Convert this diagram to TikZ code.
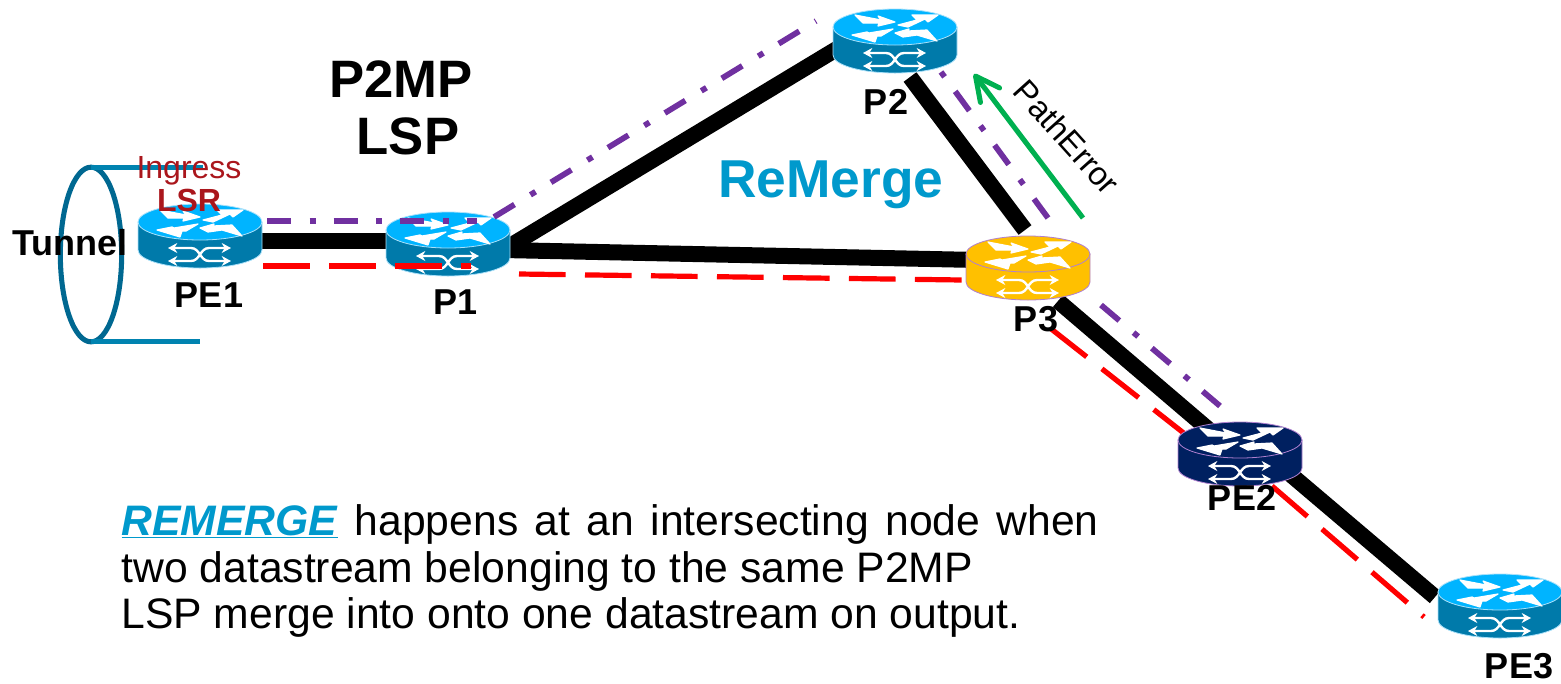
\documentclass[tikz,border=0pt]{standalone}
\usepackage{fontspec}
\setmainfont{Liberation Sans}
\usetikzlibrary{arrows.meta,calc,shapes.geometric}

\definecolor{lspblue}{RGB}{0,153,204}
\definecolor{lsrred}{RGB}{170,22,28}
\definecolor{lsppurple}{RGB}{112,48,160}
\definecolor{errgreen}{RGB}{0,176,80}
\definecolor{tubedark}{RGB}{0,104,145}
\definecolor{tubelight}{RGB}{0,131,176}
\definecolor{skytop}{RGB}{0,180,255}
\definecolor{skyside}{RGB}{0,122,170}
\definecolor{skyline}{RGB}{170,225,250}
\definecolor{goldtop}{RGB}{255,192,0}
\definecolor{navytop}{RGB}{0,32,96}
\definecolor{edgelilac}{RGB}{176,128,208}

\tikzset{every picture/.style={line width=0.75pt}}
\tikzset{
  routerbox/.style={minimum width=93pt,minimum height=48pt,inner sep=0pt,outer sep=0pt},
  link/.style={line width=12pt,black},
  purpledash/.style={line width=4.3pt,lsppurple,dash pattern=on 18pt off 14pt on 4.5pt off 13.5pt},
  reddash/.style={line width=3.9pt,red,dash pattern=on 35pt off 14.5pt},
  tag/.style={font=\fontsize{27}{30}\selectfont\bfseries,inner sep=0pt},
  routerface/.style={fill=white,draw=white,line width=0.9pt,line join=round},
  routerarrow/.style={white,line width=1.8pt,{Stealth[length=7pt,width=7.5pt]}-{Stealth[length=7pt,width=7.5pt]}},
  pics/router/.style n args={3}{code={
    \begin{scope}[yscale=-1,shift={(0,-14)}]
      \fill[#2,draw=#3,line width=0.6pt] (-62,0) -- (-62,28) arc[start angle=180,end angle=0,x radius=62,y radius=18] -- (62,0) -- cycle;
      \fill[#1,draw=#3,line width=0.6pt] (0,0) ellipse [x radius=62,y radius=18];
      %top arrows
      \path[routerface] (-40,-12) -- (-14,-7) -- (-17,-11) -- (0,-5) -- (-17,-1) -- (-16,-4) -- (-32,-4) -- cycle;
      \path[routerface] (3,-2) -- (22,-7) -- (17,-12) -- (43,-12) -- (33,-5) -- (30,-8) -- (13,0) -- cycle;
      \path[routerface] (-43,8) -- (-28,5) -- (-26,6) -- (-2,2) -- (-14,9) -- (-18,9) -- (-20,15) -- cycle;
      \path[routerface] (0,6) -- (14,2) -- (13,4) -- (32,3) -- (42,14) -- (22,8) -- (8,10) -- cycle;
      %bottom arrows
      \draw[routerarrow] (-32,26) -- (-9,26) .. controls (0,26) and (0,39) .. (9,39) -- (31,39);
      \draw[routerarrow] (-32,39) -- (-9,39) .. controls (0,39) and (0,26) .. (9,26) -- (31,26);
    \end{scope}
  }}
}

\begin{document}
\begin{tikzpicture}[x=0.75pt,y=0.75pt,yscale=-1,xscale=1]
\useasboundingbox (0,0) rectangle (1561,683);

%Routers, places only
\node[routerbox] (PE1) at (200,236) {};
\node[routerbox] (P1) at (448,244) {};
\node[routerbox] (P2) at (895,41) {};
\node[routerbox] (P3) at (1028,268) {};
\node[routerbox] (PE2) at (1240,454) {};
\node[routerbox] (PE3) at (1500,606) {};

%Tunnel
\node[ellipse,draw=tubedark,line width=3.8pt,minimum width=46pt,minimum height=131pt,inner sep=0pt,outer sep=0pt] (tube) at (91,254.5) {};
\coordinate (tubetop) at ($(tube.north)+(112,0)$);
\coordinate (tubebot) at ($(tube.south)+(109,0)$);
\draw[tubelight,line width=3.8pt] (tube.north) -- (tubetop);
\draw[tubelight,line width=3.8pt] (tube.south) -- (tubebot);

%Black links
\draw[link] ($(PE1)+(0,5)$) -- ($(P1)+(0,-3)$);
\draw[link] ($(P1)+(57,5)$) -- ($(P2)+(-50,3)$);
\draw[link] ($(P1)+(55,6)$) -- ($(P3)+(-50,-8)$);
\draw[link] ($(P2.south)+(15,4)$) -- ($(P3.north)+(-3,-6)$);
\draw[link] ($(P3)+(30,33)$) -- ($(PE2)+(-25,-19)$);
\draw[link] ($(PE2)+(30,3)$) -- ($(PE3)+(-65,-9)$);

%Dashes that go under the routers
\draw[reddash] ($(P3)+(22,60)$) -- ($(PE2)+(-50,-16)$);
\draw[reddash] ($(PE2)+(32,32)$) -- ($(PE3)+(-76,11)$);

\pic at (PE1) {router={skytop}{skyside}{skyline}};
\pic at (P1) {router={skytop}{skyside}{skyline}};
\pic at (P2) {router={skytop}{skyside}{skyline}};
\pic at (P3) {router={goldtop}{goldtop}{edgelilac}};
\pic at (PE2) {router={navytop}{navytop}{edgelilac}};
\pic at (PE3) {router={skytop}{skyside}{skyline}};

%Dashes on top
\draw[purpledash] ($(PE1.east)+(5,-15)$) -- ($(P1)+(29,-23)$);
\draw[reddash] ($(PE1.east)+(1,30)$) -- ($(P1)+(23,22)$);
\draw[purpledash] ($(P1)+(46,-27)$) -- ($(P2)+(-79,-20)$);
\draw[reddash] ($(P1.east)+(9,30)$) -- ($(P3.west)+(-4,12)$);
\draw[purpledash,dash phase=32pt] ($(P2)+(46,31)$) -- ($(P3)+(20,-50)$);
\draw[purpledash] ($(P3)+(73,37)$) -- ($(PE2)+(-20,-48)$);

%PathError arrow
\draw[errgreen,line width=3.8pt,-{Straight Barb[length=18pt,width=18pt,round]}] ($(P3)+(55,-50)$) -- ($(P2)+(79,33)$);

% Text Node
\node[font=\fontsize{39.5}{44}\selectfont\bfseries,inner sep=0pt] (p2mp) at (401,79) {P2MP};
% Text Node
\node[font=\fontsize{39.5}{44}\selectfont\bfseries,inner sep=0pt] (lsp) at (408,136) {LSP};
% Text Node
\node[font=\fontsize{24}{27}\selectfont,text=lsrred,inner sep=0pt] (ingress) at (189,171) {Ingress};
% Text Node
\node[font=\fontsize{24}{27}\selectfont\bfseries,text=lsrred,inner sep=0pt] (lsr) at (189,200) {LSR};
% Text Node
\node[tag] (tunnel) at (70,243) {Tunnel};
% Text Node
\node[tag] (pe1tag) at (209,295) {PE1};
% Text Node
\node[tag] (p1tag) at (456,302) {P1};
% Text Node
\node[tag] (p2tag) at (886,102) {P2};
% Text Node
\node[tag] (p3tag) at (1036,319) {P3};
% Text Node
\node[tag] (pe2tag) at (1242,498) {PE2};
% Text Node
\node[tag] (pe3tag) at (1519,666) {PE3};
% Text Node
\node[font=\fontsize{40}{44}\selectfont\bfseries,text=lspblue,inner sep=0pt] (remerge) at (831,185) {ReMerge};
% Text Node
\node[font=\fontsize{24.5}{28}\selectfont,rotate=-48,inner sep=0pt] (patherror) at (1067,137) {PathError};
% Text Node
\node[anchor=north west,inner sep=0pt,text width=733pt,align=justify,font=\fontsize{32}{35}\selectfont] (note) at (121,504)
  {\textcolor{lspblue}{\underline{\textbf{\textit{REMERGE}}}} happens at an intersecting node when\linebreak two datastream belonging to the same P2MP\\LSP merge into onto one datastream on output.};

\end{tikzpicture}
\end{document}
